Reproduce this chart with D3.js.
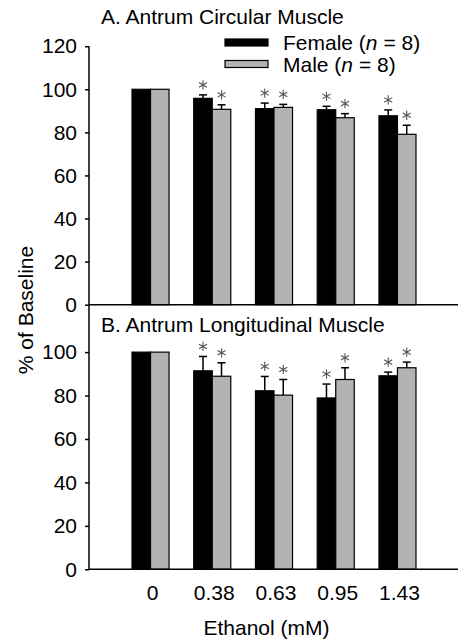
<!DOCTYPE html>
<html><head><meta charset="utf-8">
<script src="https://cdn.jsdelivr.net/npm/d3@7"></script>
<style>
html,body{margin:0;padding:0;background:#fff;}
svg{display:block;font-family:"Liberation Sans",Arial,sans-serif;}
</style></head>
<body>
<svg id="chart" width="458" height="641"></svg>
<script>
const categories = ["0", "0.38", "0.63", "0.95", "1.43"];
const seriesNames = ["Female", "Male"];
const yTicksTop = [0, 20, 40, 60, 80, 100, 120];
const yTicksBottom = [0, 20, 40, 60, 80, 100];

const circFemale    = [100, 95.8, 91.0, 90.5, 87.7];
const circFemaleErr = [0, 1.6, 2.6, 1.6, 2.7];
const circMale      = [100, 90.7, 91.6, 86.8, 79.1];
const circMaleErr   = [0, 2.1, 1.4, 1.9, 4.2];
const circSig       = [false, true, true, true, true];

const longFemale    = [100, 91.4, 82.2, 78.9, 89.1];
const longFemaleErr = [0, 6.6, 6.6, 6.4, 1.7];
const longMale      = [100, 88.9, 80.2, 87.4, 92.8];
const longMaleErr   = [0, 6.2, 7.2, 5.4, 2.6];
const longSig       = [false, true, true, true, true];

const svg = d3.select("#chart");
const FS = 21;
const axisX = 89;
const fillFor = {Female: "#000000", Male: "#b3b3b3"};

const x = d3.scaleBand().domain(categories).range([132, 416]).paddingInner(0.4).paddingOuter(0);
const xs = d3.scaleBand().domain(seriesNames).range([0, x.bandwidth()]).padding(0);

const yTop = d3.scaleLinear().domain([0, 120]).range([304.7, 46.2]);
const yBot = d3.scaleLinear().domain([0, 121.7]).range([569.3, 305]);

function panel(y, ticks, fem, femErr, mal, malErr, sig, title, titleY) {
  const g = svg.append("g");
  const rows = categories.map((c, i) => [
    {c, s: "Female", v: fem[i], e: femErr[i], sig: sig[i]},
    {c, s: "Male", v: mal[i], e: malErr[i], sig: sig[i]}
  ]).flat();

  const cx = d => x(d.c) + xs(d.s) + xs.bandwidth() / 2;

  // error bars
  const eb = g.selectAll("g.err").data(rows.filter(d => d.e > 0)).join("g").attr("class", "err");
  eb.append("line")
    .attr("x1", cx).attr("x2", cx)
    .attr("y1", d => y(d.v)).attr("y2", d => y(d.v + d.e))
    .attr("stroke", "#000").attr("stroke-width", 1.5);
  eb.append("line")
    .attr("x1", d => cx(d) - 4).attr("x2", d => cx(d) + 4)
    .attr("y1", d => y(d.v + d.e)).attr("y2", d => y(d.v + d.e))
    .attr("stroke", "#000").attr("stroke-width", 1.5);

  // bars
  g.selectAll("rect.bar").data(rows).join("rect").attr("class", "bar")
    .attr("x", d => x(d.c) + xs(d.s))
    .attr("width", xs.bandwidth())
    .attr("y", d => y(d.v))
    .attr("height", d => y(0) - y(d.v))
    .attr("fill", d => fillFor[d.s])
    .attr("stroke", "#000").attr("stroke-width", 1.2);

  // asterisks
  const star = d3.symbol().type(d3.symbolAsterisk).size(60);
  g.selectAll("path.star").data(rows.filter(d => d.sig)).join("path").attr("class", "star")
    .attr("transform", d => `translate(${cx(d)},${y(d.v + d.e) - 10})`)
    .attr("d", star)
    .attr("fill", "none").attr("stroke", "#555").attr("stroke-width", 1.1);

  // y axis
  const ax = g.append("g").attr("transform", `translate(${axisX},0)`)
    .call(d3.axisLeft(y).tickValues(ticks).tickSize(4).tickPadding(8).tickSizeOuter(0));
  ax.select(".domain").remove();
  ax.selectAll(".tick line").attr("stroke-width", 1.5);
  ax.selectAll(".tick text").attr("font-size", FS).attr("font-family", "Liberation Sans, Arial, sans-serif").attr("fill", "#000");

  // x baseline
  g.append("line").attr("x1", axisX).attr("x2", 458).attr("y1", y(0)).attr("y2", y(0))
    .attr("stroke", "#000").attr("stroke-width", 1.5);

  g.append("text").attr("x", 101).attr("y", titleY).attr("font-size", FS).text(title);
}

panel(yTop, yTicksTop, circFemale, circFemaleErr, circMale, circMaleErr, circSig, "A. Antrum Circular Muscle", 24.3);
panel(yBot, yTicksBottom, longFemale, longFemaleErr, longMale, longMaleErr, longSig, "B. Antrum Longitudinal Muscle", 331.5);

// continuous y axis line
svg.append("line").attr("x1", axisX).attr("x2", axisX).attr("y1", yTop(120)).attr("y2", yBot(0))
  .attr("stroke", "#000").attr("stroke-width", 1.5);

// x tick labels
svg.append("g").selectAll("text").data(categories).join("text")
  .attr("x", d => x(d) + x.bandwidth() / 2 + 2)
  .attr("y", 599.5)
  .attr("text-anchor", "middle").attr("font-size", FS).text(d => d);

// axis titles
svg.append("text").attr("x", 266.5).attr("y", 635).attr("text-anchor", "middle")
  .attr("font-size", FS).text("Ethanol (mM)");
svg.append("text").attr("transform", "translate(33,310) rotate(-90)").attr("text-anchor", "middle")
  .attr("font-size", FS).text("% of Baseline");

// legend
const leg = svg.append("g");
const legRows = [{s: "Female", ry: 39, ty: 49.5}, {s: "Male", ry: 60.5, ty: 71.5}];
legRows.forEach(r => {
  leg.append("rect").attr("x", 225).attr("y", r.ry).attr("width", 43).attr("height", 7)
    .attr("fill", fillFor[r.s]).attr("stroke", "#000").attr("stroke-width", 1.2);
  const t = leg.append("text").attr("x", 283).attr("y", r.ty).attr("font-size", FS);
  t.append("tspan").text(r.s + " (");
  t.append("tspan").attr("font-style", "italic").text("n");
  t.append("tspan").text(" = 8)");
});
</script>
</body></html>
